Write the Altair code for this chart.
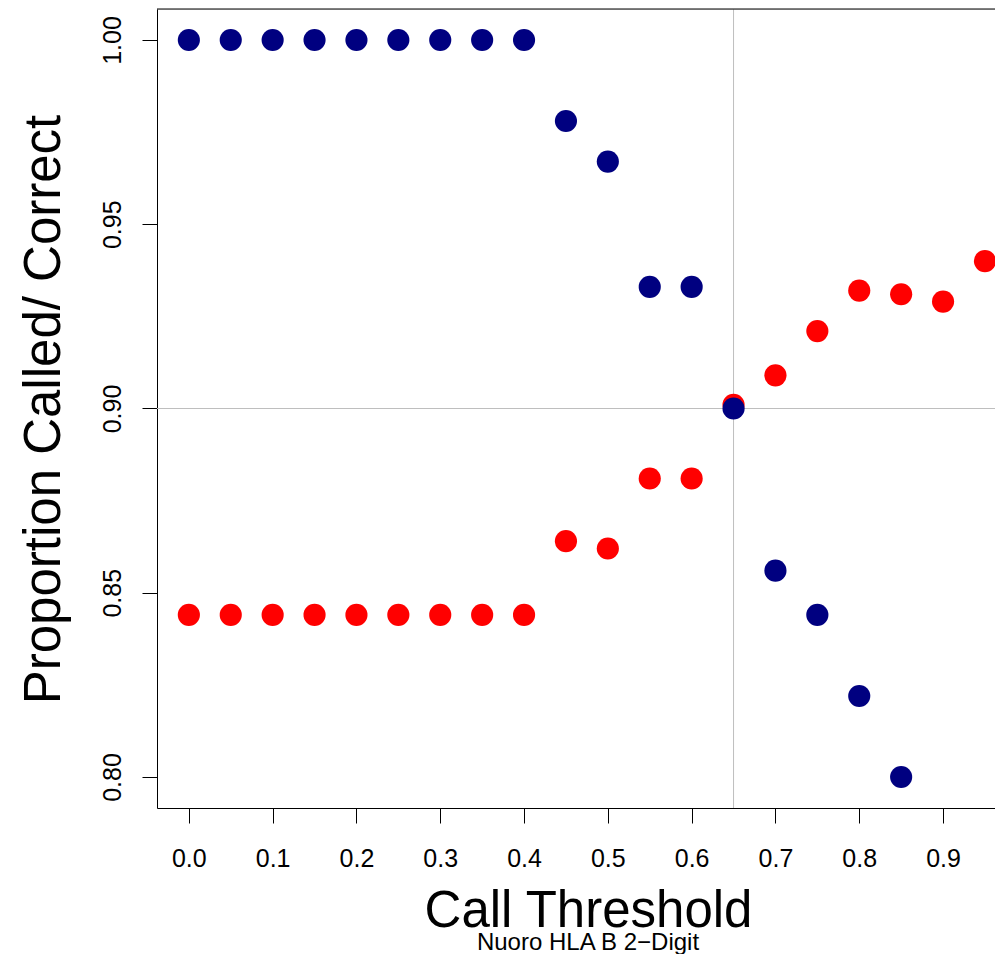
import altair as alt
import pandas as pd

thresholds = [0.0, 0.05, 0.1, 0.15, 0.2, 0.25, 0.3, 0.35, 0.4, 0.45,
              0.5, 0.55, 0.6, 0.65, 0.7, 0.75, 0.8, 0.85, 0.9, 0.95]
proportion_called = [1.0, 1.0, 1.0, 1.0, 1.0, 1.0, 1.0, 1.0, 1.0, 0.978,
                     0.967, 0.933, 0.933, 0.900, 0.856, 0.844, 0.822, 0.800]
proportion_correct = [0.844, 0.844, 0.844, 0.844, 0.844, 0.844, 0.844, 0.844, 0.844, 0.864,
                      0.862, 0.881, 0.881, 0.901, 0.909, 0.921, 0.932, 0.931, 0.929, 0.940]
x_ticks = [0.0, 0.1, 0.2, 0.3, 0.4, 0.5, 0.6, 0.7, 0.8, 0.9]
y_ticks = [0.80, 0.85, 0.90, 0.95, 1.00]
ref_x = 0.65
ref_y = 0.90

rows = []
for t, v in zip(thresholds, proportion_correct):
    rows.append({"threshold": t, "value": v, "series": "Correct"})
for t, v in zip(thresholds, proportion_called):
    rows.append({"threshold": t, "value": v, "series": "Called"})
df = pd.DataFrame(rows)

FONT = "Liberation Sans"
W, H = 838, 799

xscale = alt.Scale(domain=[-0.038, 0.962], nice=False, zero=False)
yscale = alt.Scale(domain=[0.7916, 1.0084], nice=False, zero=False)

x_axis = alt.Axis(
    values=x_ticks, format=".1f", title="Call Threshold",
    titleFontSize=51, titleFont=FONT, titleFontWeight="normal", titleColor="black",
    titleBaseline="alphabetic", titleAlign="center", titleX=431, titleY=118,
    labelFontSize=25, labelFont=FONT, labelColor="black",
    labelBaseline="alphabetic", labelPadding=43, labelFlush=False,
    tickSize=15, tickColor="black", domainColor="black", grid=False,
)
y_axis = alt.Axis(
    values=y_ticks, format=".2f", title="Proportion Called/ Correct",
    titleFontSize=51, titleFont=FONT, titleFontWeight="normal", titleColor="black",
    titleAngle=-90, titleBaseline="alphabetic", titleAlign="center",
    titleX=-98, titleY=400,
    labelFontSize=25, labelFont=FONT, labelColor="black", labelAngle=-90,
    labelAlign="center", labelBaseline="alphabetic", labelPadding=22,
    labelFlush=False,
    tickSize=15, tickColor="black", domainColor="black", grid=False,
)

points = alt.Chart(df).mark_circle(size=490, opacity=1).encode(
    x=alt.X("threshold:Q", scale=xscale, axis=x_axis),
    y=alt.Y("value:Q", scale=yscale, axis=y_axis),
    color=alt.Color("series:N", scale=alt.Scale(domain=["Correct", "Called"],
                                                range=["#FF0000", "#000080"]),
                    legend=None),
    order=alt.Order("series_order:Q"),
).transform_calculate(series_order="datum.series == 'Called' ? 1 : 0")

vline = alt.Chart(pd.DataFrame({"x": [ref_x]})).mark_rule(
    color="#BEBEBE", strokeWidth=1).encode(x=alt.X("x:Q", scale=xscale))
hline = alt.Chart(pd.DataFrame({"y": [ref_y]})).mark_rule(
    color="#BEBEBE", strokeWidth=1).encode(y=alt.Y("y:Q", scale=yscale))
top_border = alt.Chart(pd.DataFrame({"a": [0]})).mark_rule(
    color="black", strokeWidth=1).encode(y=alt.value(0))

chart = alt.layer(vline, hline, top_border, points).properties(
    width=W, height=H,
    autosize=alt.AutoSizeParams(type="none"),
    padding={"left": 149, "top": 1, "right": 0, "bottom": 146},
    title=alt.Title("Nuoro HLA B 2\u2212Digit", orient="bottom", anchor="middle",
                    fontSize=24, font=FONT, fontWeight="normal", color="black",
                    dx=12, offset=-5),
).configure_view(stroke=None).configure(background="white")

chart.save("out.html", embed_options={"renderer": "svg", "actions": False})
